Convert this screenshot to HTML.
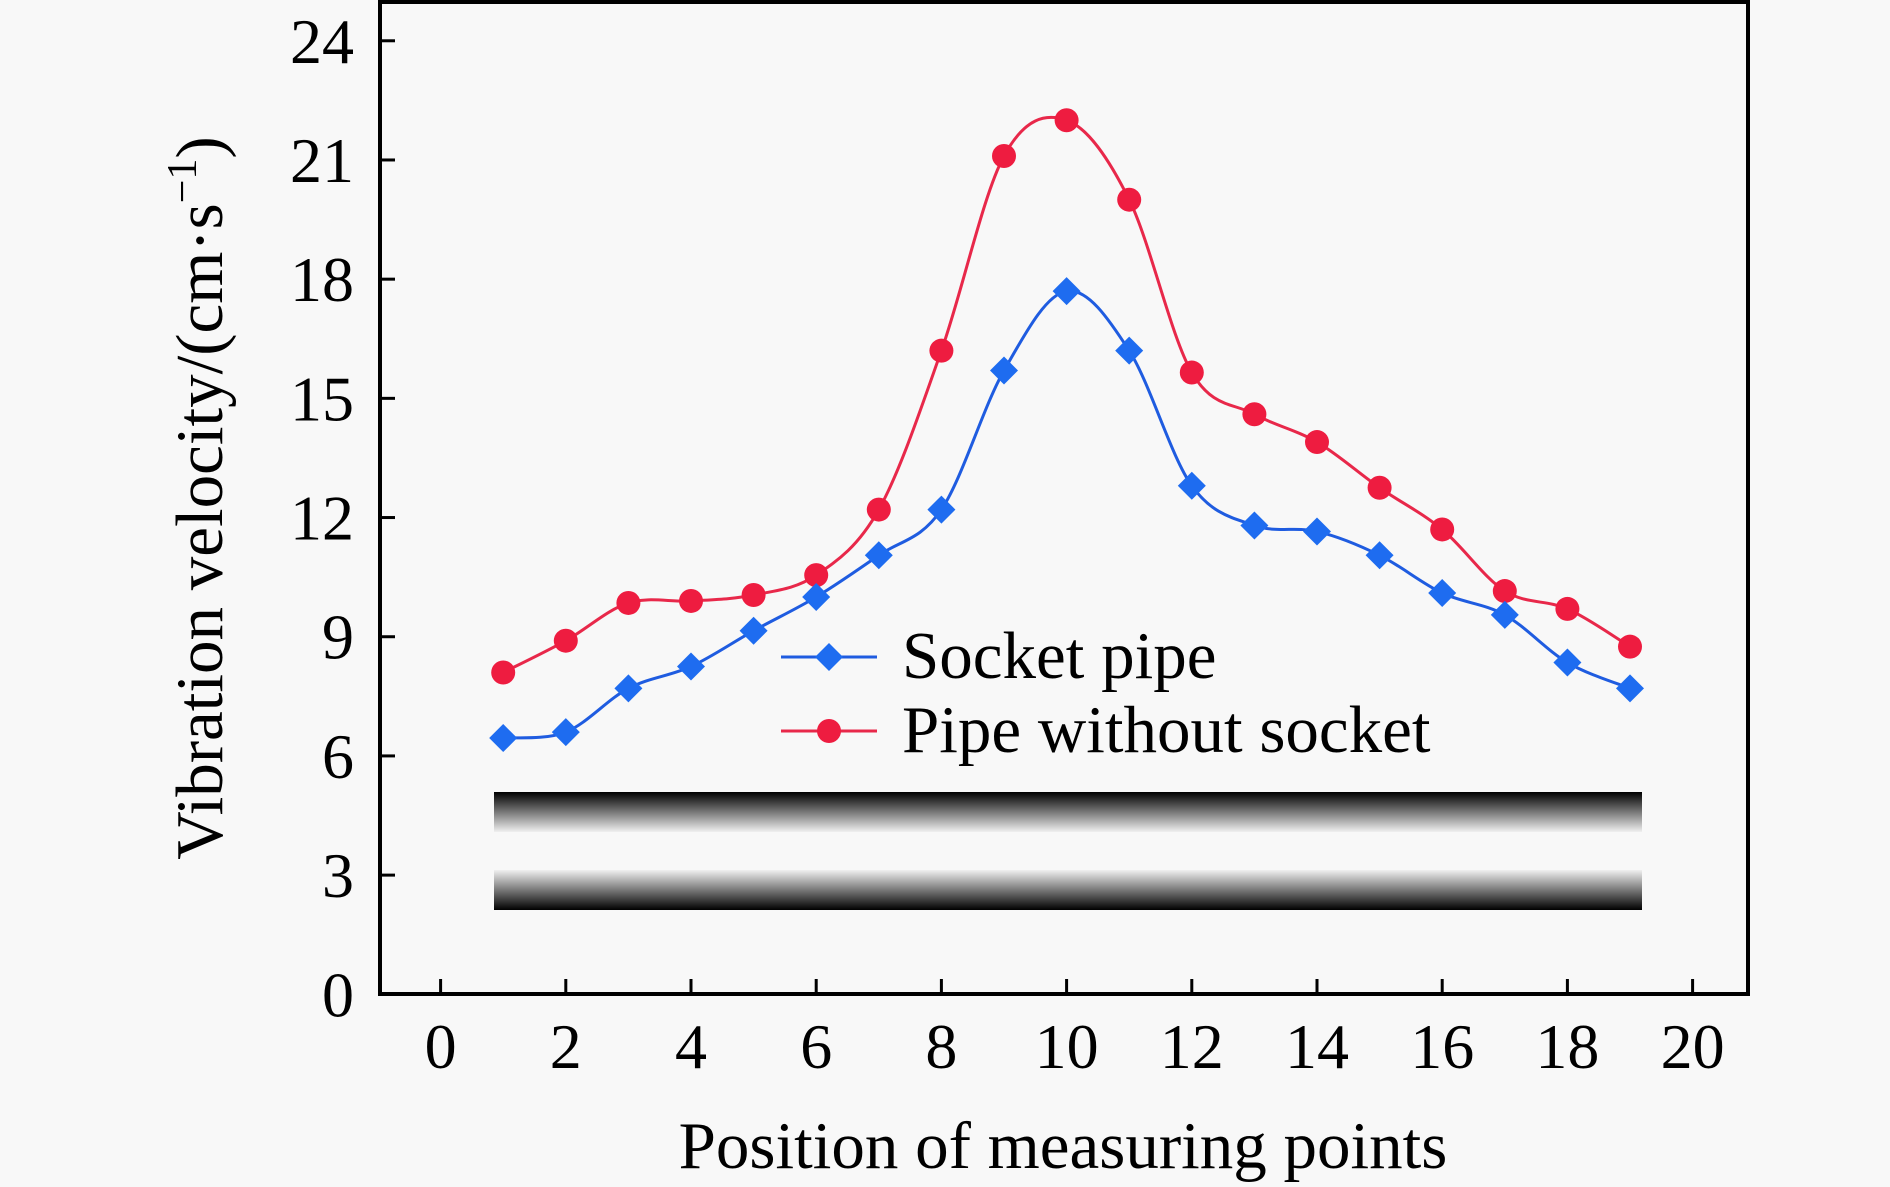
<!DOCTYPE html>
<html><head><meta charset="utf-8"><style>
html,body{margin:0;padding:0;background:#f8f8f8;}
svg{display:block;font-family:"Liberation Serif",serif;}
</style></head><body>
<svg id="chart" width="1890" height="1187" viewBox="0 0 1890 1187">
<defs>
<linearGradient id="gTop" x1="0" y1="0" x2="0" y2="1"><stop offset="0" stop-color="#000"/><stop offset="1" stop-color="#f0f0f0"/></linearGradient>
<linearGradient id="gBot" x1="0" y1="0" x2="0" y2="1"><stop offset="0" stop-color="#f0f0f0"/><stop offset="1" stop-color="#000"/></linearGradient>
</defs>
<rect x="494" y="792" width="1148" height="40" fill="url(#gTop)"/>
<rect x="494" y="870" width="1148" height="40" fill="url(#gBot)"/>
<g id="axes"></g>
<g id="series"></g>
<text x="1063" y="1168" font-size="67" text-anchor="middle">Position of measuring points</text>
<text transform="translate(222,498) rotate(-90)" font-size="67" text-anchor="middle">Vibration velocity/(cm·s<tspan dy="-26" font-size="42">−1</tspan><tspan dy="26">)</tspan></text>
<g>
<line x1="781" y1="657" x2="877" y2="657" stroke="#1f5ce0" stroke-width="3"/>
<path d="M829 643 L843 657 L829 671 L815 657 Z" fill="#1e6cf0"/>
<text x="902" y="678" font-size="67">Socket pipe</text>
<line x1="781" y1="731" x2="877" y2="731" stroke="#e8284a" stroke-width="3"/>
<circle cx="829" cy="731" r="12" fill="#ee1c40"/>
<text x="902" y="752" font-size="67">Pipe without socket</text>
</g>
</svg>
<script>
const positions=[1,2,3,4,5,6,7,8,9,10,11,12,13,14,15,16,17,18,19];
const socketPipe=[6.45,6.6,7.7,8.25,9.15,10.0,11.05,12.2,15.7,17.7,16.2,12.8,11.8,11.65,11.05,10.1,9.55,8.35,7.7];
const pipeWithoutSocket=[8.1,8.9,9.85,9.9,10.05,10.55,12.2,16.2,21.1,22.0,20.0,15.65,14.6,13.9,12.75,11.7,10.15,9.7,8.75];
const xTicks=[0,2,4,6,8,10,12,14,16,18,20];
const yTicks=[0,3,6,9,12,15,18,21,24];
const NS="http://www.w3.org/2000/svg";
const L=380,R=1748,T=2,B=994;
function xs(v){return 440.6+v*62.6;}
function ys(v){return 994.3-v*39.73;}
function mk(tag,attrs,parent){const e=document.createElementNS(NS,tag);for(const k in attrs)e.setAttribute(k,attrs[k]);parent.appendChild(e);return e;}
const axes=document.getElementById('axes');
const frame=mk('rect',{x:L,y:T,width:R-L,height:B-T,fill:'none',stroke:'#000','stroke-width':4},axes);


xTicks.forEach(t=>{
  const ln=mk('line',{x1:xs(t),x2:xs(t),y1:B,y2:B-15,stroke:'#000','stroke-width':3},axes);
  
  
  const tx=mk('text',{x:xs(t),y:1068,'font-size':64,'text-anchor':'middle'},axes);
  tx.textContent=t;
  
  
});
yTicks.forEach(t=>{
  const ln=mk('line',{x1:L,x2:L+15,y1:ys(t),y2:ys(t),stroke:'#000','stroke-width':3},axes);
  
  
  const tx=mk('text',{x:354,y:ys(t)+22,'font-size':64,'text-anchor':'end'},axes);
  tx.textContent=t;
  
  
});
function spline(pts){
  let d='M'+pts[0][0]+' '+pts[0][1];
  for(let i=0;i<pts.length-1;i++){
    const p0=pts[Math.max(0,i-1)],p1=pts[i],p2=pts[i+1],p3=pts[Math.min(pts.length-1,i+2)];
    const c1x=p1[0]+(p2[0]-p0[0])/6,c1y=p1[1]+(p2[1]-p0[1])/6;
    const c2x=p2[0]-(p3[0]-p1[0])/6,c2y=p2[1]-(p3[1]-p1[1])/6;
    d+=' C'+c1x+' '+c1y+' '+c2x+' '+c2y+' '+p2[0]+' '+p2[1];
  }
  return d;
}
const sg=document.getElementById('series');
function draw(vals,color,mcolor,shape,name){
  const pts=positions.map((p,i)=>[xs(p),ys(vals[i])]);
  const path=mk('path',{d:spline(pts),fill:'none',stroke:color,'stroke-width':3},sg);
  
  
  pts.forEach(([x,y])=>{
    let m;
    if(shape==='diamond'){m=mk('path',{d:`M${x} ${y-14} L${x+14} ${y} L${x} ${y+14} L${x-14} ${y} Z`,fill:mcolor},sg);}
    else{m=mk('circle',{cx:x,cy:y,r:12,fill:mcolor},sg);}
    
    
  });
}
draw(pipeWithoutSocket,'#e8284a','#ee1c40','circle','pipe-without-socket');
draw(socketPipe,'#1f5ce0','#1e6cf0','diamond','socket-pipe');
</script>
</body></html>
